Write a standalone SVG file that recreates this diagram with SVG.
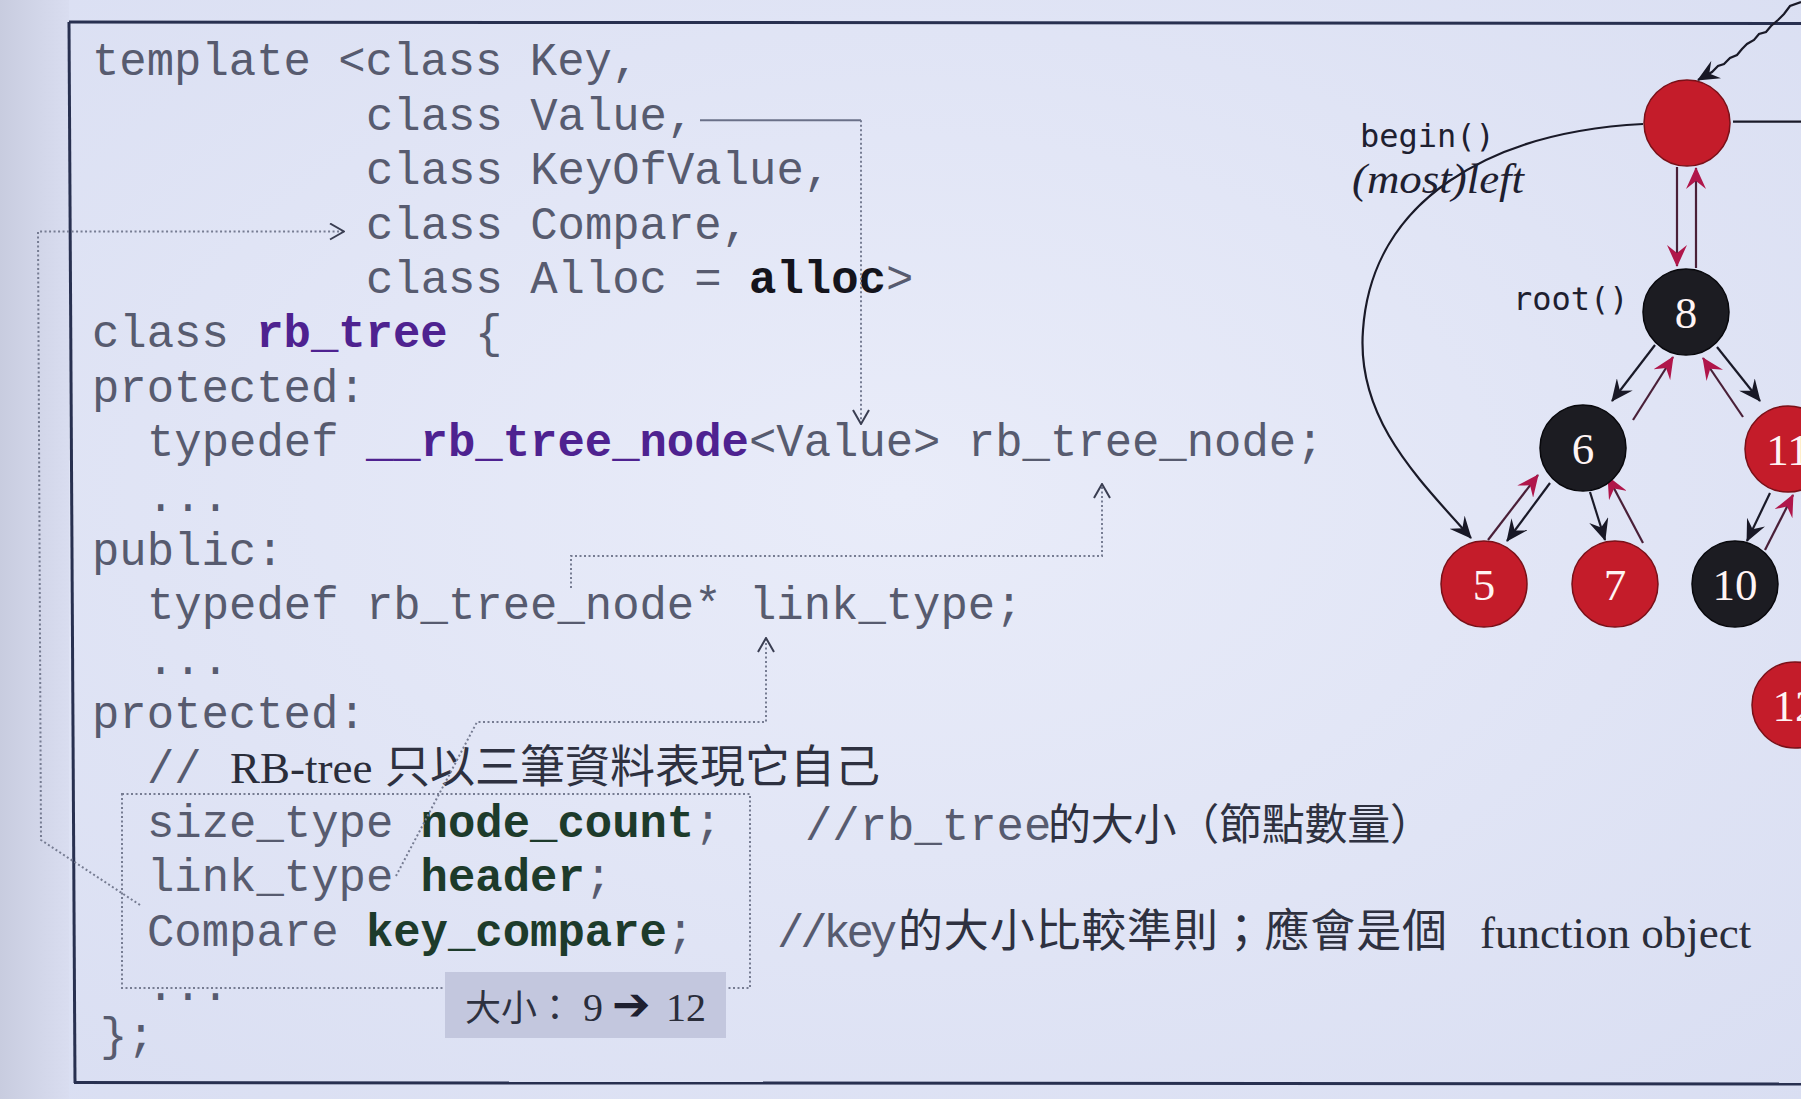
<svg xmlns="http://www.w3.org/2000/svg" width="1801" height="1099" viewBox="0 0 1801 1099">
<defs>
<radialGradient id="bg" cx="0.5" cy="0.45" r="0.75">
<stop offset="0" stop-color="#e9ecf9"/>
<stop offset="1" stop-color="#d9def2"/>
</radialGradient>
<linearGradient id="leftStrip" x1="0" y1="0" x2="1" y2="0">
<stop offset="0" stop-color="#c8ccdf"/>
<stop offset="1" stop-color="#d9ddf0"/>
</linearGradient>
<marker id="chev" viewBox="0 0 16 18" refX="15" refY="9" markerWidth="16" markerHeight="18" markerUnits="userSpaceOnUse" orient="auto">
<path d="M1,1 L15,9 L1,17" fill="none" stroke="#3a3e52" stroke-width="2"/>
</marker>
<marker id="hb" viewBox="0 0 22 20" refX="21" refY="10" markerWidth="22" markerHeight="20" markerUnits="userSpaceOnUse" orient="auto">
<path d="M0,0 L22,10 L0,20 L8,10 z" fill="#181826"/>
</marker>
<marker id="hr" viewBox="0 0 22 20" refX="21" refY="10" markerWidth="22" markerHeight="20" markerUnits="userSpaceOnUse" orient="auto">
<path d="M0,0 L22,10 L0,20 L8,10 z" fill="#b0164a"/>
</marker>
<style>
.code{font-family:"Liberation Mono","DejaVu Sans Mono",monospace;font-size:45.6px;fill:#575b6f;}
.kp{font-weight:bold;fill:#4e2290;}
.kg{font-weight:bold;fill:#1d3b2b;}
.kb{font-weight:bold;fill:#14141c;}
.cjk{font-family:"Noto Sans CJK TC","Noto Sans CJK SC",sans-serif;fill:#2e3140;}
.serif{font-family:"Liberation Serif","Times New Roman",serif;fill:#2a2d3a;}
.dot{fill:none;stroke:#767c92;stroke-width:2;stroke-dasharray:2 2.5;}
.frame{fill:none;stroke:#283050;stroke-width:3;}
.lbl{font-family:"DejaVu Sans Mono","Liberation Mono",monospace;font-size:32px;fill:#1e2030;}
.nr{fill:#c41c2a;stroke:#7a1018;stroke-width:1.5;}
.nb{fill:#1c1c22;stroke:#08080c;stroke-width:1.5;}
.nt{font-family:"Liberation Serif","Times New Roman",serif;font-size:45px;fill:#fff4f4;text-anchor:middle;}
.eb{fill:none;stroke:#1a1a28;stroke-width:2.2;marker-end:url(#hb);}
.er{fill:none;stroke:#4a2038;stroke-width:2.2;marker-end:url(#hr);}
</style>
</defs>

<rect x="0" y="0" width="1801" height="1099" fill="url(#bg)"/>
<rect x="0" y="0" width="69" height="1099" fill="url(#leftStrip)"/>

<g id="frame">
<path class="frame" d="M69,22 L1801,23.5"/>
<path class="frame" d="M69,22 L75,1083"/>
<path class="frame" d="M74,1082.5 L1801,1084"/>
</g>

<g id="code">
<text class="code" x="92" y="75.4">template &lt;class Key,</text>
<text class="code" x="366" y="129.8">class Value,</text>
<text class="code" x="366" y="184.2">class KeyOfValue,</text>
<text class="code" x="366" y="238.6">class Compare,</text>
<text class="code" x="366" y="293">class Alloc = <tspan class="kb">alloc</tspan>&gt;</text>
<text class="code" x="92" y="347.4">class <tspan class="kp">rb_tree</tspan> {</text>
<text class="code" x="92" y="401.8">protected:</text>
<text class="code" x="147" y="456.2">typedef <tspan class="kp">__rb_tree_node</tspan>&lt;Value&gt; rb_tree_node;</text>
<text class="code" x="147" y="510.6">...</text>
<text class="code" x="92" y="565">public:</text>
<text class="code" x="147" y="619.4">typedef rb_tree_node* link_type;</text>
<text class="code" x="147" y="673.8">...</text>
<text class="code" x="92" y="728.2">protected:</text>
<text class="code" x="147" y="782.6">//</text>
<text class="serif" x="230" y="782.6" font-size="45">RB-tree</text>
<text class="cjk" x="385" y="782.6" font-size="45" textLength="495" lengthAdjust="spacing">只以三筆資料表現它自己</text>
<text class="code" x="147" y="837">size_type <tspan class="kg">node_count</tspan>;</text>
<text class="code" x="147" y="891.4">link_type <tspan class="kg">header</tspan>;</text>
<text class="code" x="147" y="945.8">Compare <tspan class="kg">key_compare</tspan>;</text>
<text class="code" x="147" y="1000.2">...</text>
<text class="code" x="100" y="1050">};</text>
</g>

<g id="comments">
<text class="code" x="805" y="840">//rb_tree</text>
<text class="cjk" x="1048" y="840" font-size="43" textLength="385" lengthAdjust="spacing">的大小（節點數量）</text>
<text class="code" x="777" y="947" textLength="120" lengthAdjust="spacing">//key</text>
<text class="cjk" x="898" y="947" font-size="45" textLength="549" lengthAdjust="spacing">的大小比較準則；應會是個</text>
<text class="serif" x="1480" y="948" font-size="45">function object</text>
</g>

<g id="members-box">
<rect class="dot" x="122" y="794" width="628" height="194"/>
</g>

<g id="size-badge">
<rect x="445" y="972" width="281" height="66" fill="#c3c7de"/>
<text class="cjk" x="465" y="1021" font-size="36">大小：</text>
<text class="serif" x="583" y="1021" font-size="40">9</text>
<text x="612" y="1020" font-family="DejaVu Sans,sans-serif" font-size="46" font-weight="bold" fill="#1e2030">➔</text>
<text class="serif" x="666" y="1021" font-size="40">12</text>
</g>

<g id="connectors">
<path d="M700,120.3 H861" fill="none" stroke="#6a7088" stroke-width="2"/>
<path class="dot" d="M861,120.3 V424" marker-end="url(#chev)"/>
<path class="dot" d="M571,588 V556 H1102 V484" marker-end="url(#chev)"/>
<path class="dot" d="M396,876 L477,722 H766 V638" marker-end="url(#chev)"/>
<path class="dot" d="M140,905 L41,840 L38,231.5 H344" marker-end="url(#chev)"/>
</g>

<g id="tree-edges">
<path class="eb" d="M1801,2 L1790,6 L1784,14 L1778,20 L1771,26 L1766,32 L1759,34 L1754,40 L1747,44 L1742,49 L1737,55 L1730,58 L1724,64 L1718,66 L1712,72 L1698,80"/>
<path d="M1733,121.7 H1801" fill="none" stroke="#1a1a28" stroke-width="2.2"/>
<path class="eb" d="M1643,124 C1490,132 1372,200 1363,330 C1356,420 1420,480 1471,538"/>
<path class="er" d="M1677,167 V266"/>
<path class="er" d="M1696,268 V168"/>
<path class="eb" d="M1655,345 L1612,401"/>
<path class="er" d="M1633,420 L1673,357"/>
<path class="eb" d="M1717,347 L1760,401"/>
<path class="er" d="M1743,417 L1703,358"/>
<path class="eb" d="M1550,483 L1507,541"/>
<path class="er" d="M1488,540 L1538,475"/>
<path class="eb" d="M1590,492 L1605,540"/>
<path class="er" d="M1643,543 L1608,477"/>
<path class="eb" d="M1770,493 L1747,541"/>
<path class="er" d="M1765,550 L1793,495"/>
</g>

<g id="labels">
<text class="lbl" x="1360" y="147">begin()</text>
<text x="1352" y="193" font-family="Liberation Serif,serif" font-style="italic" font-size="42" fill="#1e2030" textLength="172" lengthAdjust="spacingAndGlyphs">(most)left</text>
<text class="lbl" x="1513" y="310">root()</text>
</g>

<g id="node-header"><circle class="nr" cx="1687" cy="123" r="43"/></g>
<g id="node-8"><circle class="nb" cx="1686" cy="312" r="43"/><text class="nt" x="1686" y="328">8</text></g>
<g id="node-6"><circle class="nb" cx="1583" cy="448" r="43"/><text class="nt" x="1583" y="464">6</text></g>
<g id="node-11"><circle class="nr" cx="1788" cy="449" r="43"/><text class="nt" x="1788" y="465">11</text></g>
<g id="node-5"><circle class="nr" cx="1484" cy="584" r="43"/><text class="nt" x="1484" y="600">5</text></g>
<g id="node-7"><circle class="nr" cx="1615" cy="584" r="43"/><text class="nt" x="1615" y="600">7</text></g>
<g id="node-10"><circle class="nb" cx="1735" cy="584" r="43"/><text class="nt" x="1735" y="600">10</text></g>
<g id="node-12"><circle class="nr" cx="1795" cy="705" r="43"/><text class="nt" x="1795" y="721">12</text></g>
</svg>
